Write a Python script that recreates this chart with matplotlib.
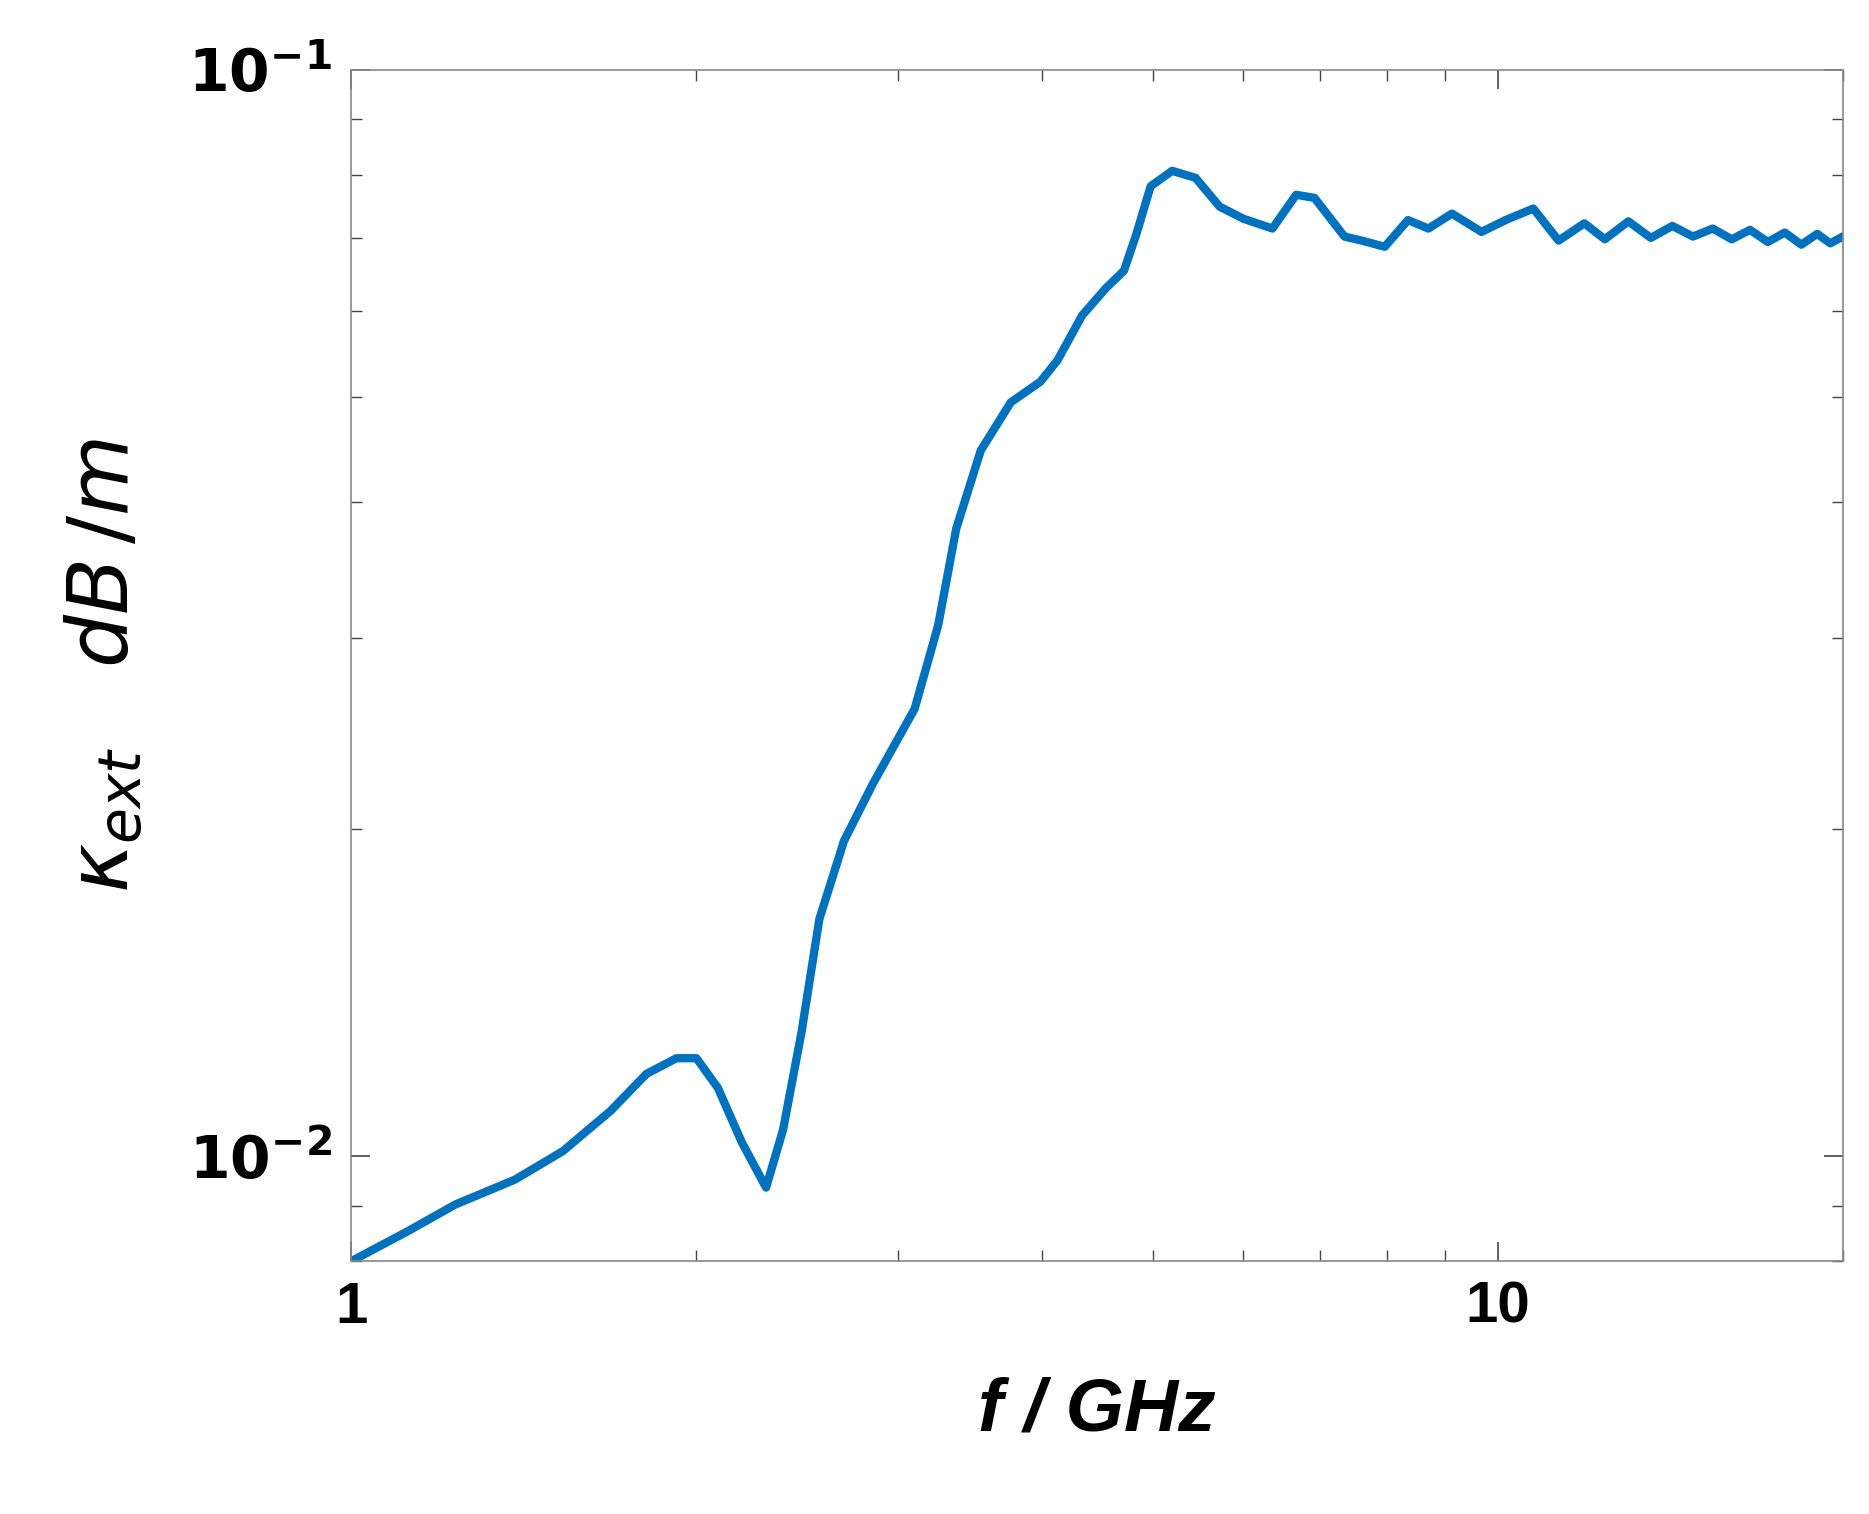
import matplotlib
matplotlib.use("Agg")
import matplotlib.pyplot as plt
from matplotlib.ticker import FixedLocator, NullFormatter

freq = [1.0, 1.119, 1.232, 1.389, 1.529, 1.683, 1.809, 1.921, 2.0, 2.088, 2.19, 2.30, 2.38, 2.47,
        2.56, 2.69, 2.85, 3.10, 3.25, 3.37, 3.54, 3.76, 3.99, 4.13, 4.34, 4.55, 4.72, 4.84, 4.98,
        5.20, 5.45, 5.72, 6.0, 6.36, 6.67, 6.92, 7.35, 7.61, 7.97, 8.35, 8.7, 9.12, 9.68, 10.16,
        10.74, 11.3, 11.9, 12.4, 13.0, 13.6, 14.2, 14.8, 15.4, 16.0, 16.6, 17.2, 17.8, 18.4, 19.0, 19.5, 20.0]
kext = [0.0080, 0.00852, 0.00902, 0.00951, 0.0101, 0.0110, 0.0119, 0.0123, 0.0123, 0.01155, 0.0103,
        0.00935, 0.01057, 0.0130, 0.01652, 0.0195, 0.0220, 0.0258, 0.0308, 0.0378, 0.0446, 0.0494,
        0.0516, 0.0540, 0.0594, 0.0629, 0.0653, 0.0706, 0.0781, 0.0807, 0.0795, 0.0748, 0.0729,
        0.0714, 0.0767, 0.0762, 0.0702, 0.0696, 0.0687, 0.0727, 0.0714, 0.0737, 0.0709, 0.0727,
        0.0745, 0.0696, 0.0722, 0.0698, 0.0725, 0.0700, 0.0718, 0.0702, 0.0714, 0.0698, 0.0712,
        0.0694, 0.0708, 0.0690, 0.0706, 0.0692, 0.0702]

fig = plt.figure(figsize=(18.69, 15.14), dpi=100)
ax = fig.add_axes([0.188, 0.167, 0.798, 0.787])
ax.plot(freq, kext, color="#0072BD", linewidth=6, solid_joinstyle="round")
ax.set_xscale("log"); ax.set_yscale("log")
ax.set_xlim(1, 20); ax.set_ylim(0.008, 0.1)
ax.xaxis.set_major_locator(FixedLocator([1, 10]))
ax.xaxis.set_minor_locator(FixedLocator([2,3,4,5,6,7,8,9,20]))
ax.xaxis.set_minor_formatter(NullFormatter())
ax.set_xticklabels(["1", "10"])
ax.yaxis.set_major_locator(FixedLocator([0.01, 0.1]))
ax.yaxis.set_minor_locator(FixedLocator([0.008, 0.009, 0.02, 0.03, 0.04, 0.05, 0.06, 0.07, 0.08, 0.09]))
ax.yaxis.set_minor_formatter(NullFormatter())
ax.set_yticklabels([r"$\mathbf{10^{-2}}$", r"$\mathbf{10^{-1}}$"])
ax.tick_params(which="both", direction="in", top=True, right=True, color="#444444")
ax.tick_params(which="major", length=14, width=1.2, labelsize=42, pad=14)
ax.tick_params(which="minor", length=8, width=1.0)
for lab in ax.get_xticklabels() + ax.get_yticklabels():
    lab.set_fontfamily("Liberation Sans"); lab.set_fontweight("bold")
for s in ax.spines.values():
    s.set_color("#888888"); s.set_linewidth(1.2)
ax.set_xlabel("f / GHz", fontsize=54, fontweight="bold", fontstyle="italic",
              family="Liberation Sans", labelpad=30)
ax.set_ylabel(r"$\kappa_{ext}\quad dB\,/m$", fontsize=60, labelpad=30)
fig.savefig("out.png", dpi=100)
